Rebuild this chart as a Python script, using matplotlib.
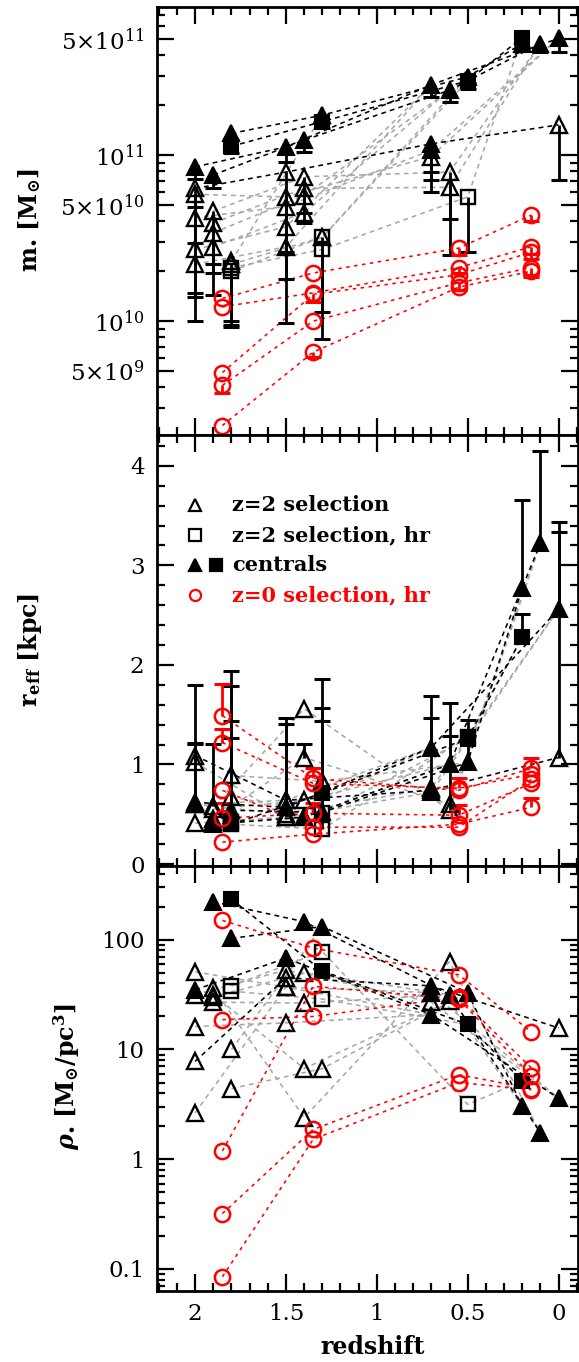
import numpy as np
import matplotlib
matplotlib.use('Agg')
import matplotlib.pyplot as plt
from matplotlib.ticker import FixedLocator, FixedFormatter, MultipleLocator, LogLocator, NullFormatter

nan = np.nan

# redshift columns used by each sample (offset so the symbols don't overlap)
x_a = [2.0, 1.5, 0.7, 0.0]
x_b = [1.9, 1.4, 0.6, 0.1]
x_c = [1.8, 1.3, 0.5, 0.2]
x_r = [1.85, 1.35, 0.55, 0.15]

# one entry per galaxy track
group = ['a', 'a', 'a', 'a', 'a', 'a',
         'b', 'b', 'b', 'b', 'b',
         'c', 'c', 'c', 'c', 'c', 'c',
         'r', 'r', 'r', 'r', 'r']
# F filled tri, S filled square, o open tri, s open square, r red circle, - merged (no symbol)
marks = ['FFFF', 'ooFo', 'ooo-', 'ooF-', 'oo- ', 'oo- ',
         'FFFF', 'ooo-', 'ooo-', 'oo- ', 'oo- ',
         'FFFF', 'SSSS', 'sss-', 'ss- ', 'oo- ', 'o-  ',
         'rrrr', 'rrrr', 'rrrr', 'rrrr', 'rrrr']
line_col = ['k', 'k', 'g', 'g', 'g', 'g',
            'k', 'g', 'g', 'g', 'g',
            'k', 'k', 'g', 'g', 'g', 'g',
            'r', 'r', 'r', 'r', 'r']

# stellar mass [1e10 Msun]
mass = [[8.5, 11.2, 26.5, 50.5], [6.3, 7.9, 11.7, 15.2], [5.8, 5.6, 9.8, 50.5],
        [4.2, 4.9, 10.7, 50.5], [2.7, 3.7, 26.5, nan], [2.2, 2.8, 26.5, nan],
        [7.6, 12.3, 24.6, 47], [4.6, 7.4, 7.9, 47], [3.9, 6.3, 6.4, 47],
        [3.4, 5.7, 24.6, nan], [2.8, 4.5, 24.6, nan],
        [13.5, 17.4, 29.6, 47], [11.3, 15.9, 28, 51], [2.1, 2.7, 5.6, 51],
        [2.0, 3.2, 28, nan], [2.2, 3.2, 29.6, nan], [2.3, 17.4, nan, nan],
        [1.37, 1.95, 2.75, 4.35], [1.22, 1.48, 2.1, 2.8], [0.49, 1.45, 1.9, 2.6],
        [0.41, 1.0, 1.7, 2.1], [0.235, 0.65, 1.6, 2.0]]
mass_lo = [[7.2, 9.1, 22.5, 41.5], [4.9, 0.97, 7.9, 7.1], [1.0, 1.8, 6.0, nan],
           [2.95, 2.6, 7.1, nan], [1.48, nan, nan, nan], [1.4, nan, nan, nan],
           [6.3, 10.5, 21, 42], [2.2, 4.5, 4.1, nan], [1.95, 3.9, 2.5, nan],
           [1.44, nan, nan, nan], [nan, nan, nan, nan],
           [12.3, 15.5, 27, 43], [10.3, 14.5, 25, 45], [1.0, 1.13, 2.6, nan],
           [0.95, 0.78, nan, nan], [0.92, nan, nan, nan], [nan, nan, nan, nan],
           [nan, nan, 2.5, 4.0], [nan, nan, 1.95, 2.55], [nan, 1.3, nan, 2.35],
           [0.37, nan, 1.55, 1.9], [nan, 0.61, nan, 1.85]]

# effective radius [kpc]
reff = [[0.62, 0.57, 1.17, 2.56], [1.09, 0.64, 0.74, 1.07], [0.60, 0.50, 0.76, 2.56],
        [0.41, 0.47, 0.72, 2.56], [0.60, 0.64, 1.17, nan], [1.02, 0.47, 1.17, nan],
        [0.40, 0.47, 1.00, 3.22], [0.58, 1.56, 0.54, 3.22], [0.45, 1.07, 0.60, 3.22],
        [0.55, 0.64, 1.00, nan], [0.42, 0.47, 1.00, nan],
        [0.54, 0.52, 1.02, 2.77], [0.40, 0.71, 1.26, 2.28], [0.40, 0.35, 1.28, 2.28],
        [0.42, 0.51, 1.26, nan], [0.89, 0.83, 1.02, nan], [0.67, 0.52, nan, nan],
        [0.22, 0.30, 0.40, 0.57], [0.46, 0.51, 0.49, 0.81], [0.74, 0.37, 0.37, 0.85],
        [1.22, 0.81, 0.76, 0.90], [1.49, 0.86, 0.74, 0.96]]
reff_hi = [[nan, nan, 1.69, 3.44], [1.80, 1.47, 1.47, 3.34], [1.22, 1.41, nan, nan],
           [nan, 1.21, nan, nan], [1.21, nan, nan, nan], [nan, nan, nan, nan],
           [nan, nan, 1.29, 4.15], [1.21, nan, 1.62, nan], [nan, 1.21, nan, nan],
           [nan, nan, nan, nan], [nan, nan, nan, nan],
           [1.94, 1.86, 1.45, 3.66], [1.79, 1.57, nan, 2.51], [1.44, 1.44, nan, nan],
           [1.27, nan, nan, nan], [nan, nan, nan, nan], [nan, nan, nan, nan],
           [nan, nan, nan, 0.66], [0.61, 0.61, 0.59, nan], [nan, nan, nan, nan],
           [1.36, nan, 0.86, nan], [1.81, 0.96, nan, 1.06]]

# stellar density [Msun/pc^3]
rho = [[35, 68, 20.8, 3.6], [7.8, 45, 38, 15.7], [31.6, 53, 27, 3.6],
       [51, 37, 33, 3.6], [16.2, 17.5, 20.8, nan], [2.65, 37, 20.8, nan],
       [222, 146, 31.6, 1.75], [36, 2.4, 63, 1.75], [31.6, 6.7, 27.5, 1.75],
       [27, 26.5, 31.6, nan], [30, 50, 31.6, nan],
       [103, 132, 33, 3.05], [234, 52, 16.9, 5.15], [38, 78, 3.16, 5.15],
       [34, 28.8, 16.9, nan], [4.4, 6.7, 33, nan], [10, 132, nan, nan],
       [150, 84, 48, 14.5], [18.7, 20, 30, 6.8], [1.19, 37.6, 29, 5.75],
       [0.32, 1.87, 5.9, 4.4], [0.085, 1.52, 5.0, 4.3]]

legend_labels = ['z=2 selection', 'z=2 selection, hr', 'centrals', 'z=0 selection, hr']

# ---------------------------------------------------------------
plt.rcParams['font.family'] = 'DejaVu Serif'
plt.rcParams['mathtext.fontset'] = 'dejavuserif'

COLS = {'a': x_a, 'b': x_b, 'c': x_c, 'r': x_r}
LINE = {'g': '#a8a8a8', 'k': 'black', 'r': '#ff0000'}
MK = {
    'F': dict(marker='^', ms=12, mfc='black', mec='black', mew=1.5),
    'S': dict(marker='s', ms=10.5, mfc='black', mec='black', mew=1.5),
    'o': dict(marker='^', ms=12, mfc='none', mec='black', mew=1.7),
    's': dict(marker='s', ms=10.5, mfc='none', mec='black', mew=1.7),
    'r': dict(marker='o', ms=11, mfc='none', mec='#ff0000', mew=1.8),
}

W, H = 579, 1362
fig = plt.figure(figsize=(W / 100, H / 100), dpi=100)
def fy(y): return 1 - y / H
L, R = 157 / W, 578.5 / W
ax1 = fig.add_axes([L, fy(435), R - L, fy(7) - fy(435)])
ax2 = fig.add_axes([L, fy(866), R - L, fy(435) - fy(866)], sharex=ax1)
ax3 = fig.add_axes([L, fy(1291), R - L, fy(866) - fy(1291)], sharex=ax1)


def draw(ax, vals, err=None, scale=1.0):
    n = len(group)
    for c in ['g', 'k', 'r']:
        for i in range(n):
            if line_col[i] != c:
                continue
            xs = np.array(COLS[group[i]])
            ys = np.array(vals[i], float) * scale
            ok = ~np.isnan(ys)
            ls = (0, (2.2, 2.8)) if c == 'r' else (0, (3, 2.6))
            ax.plot(xs[ok], ys[ok], ls=ls, lw=1.15, color=LINE[c], zorder=2)
    if err is not None:
        for i in range(n):
            ec = '#ff0000' if group[i] == 'r' else 'black'
            for j in range(4):
                v, e = vals[i][j], err[i][j]
                if np.isnan(v) or np.isnan(e):
                    continue
                x = COLS[group[i]][j]
                ax.plot([x, x], [v * scale, e * scale], color=ec, lw=2, zorder=3,
                        solid_capstyle='butt')
                ax.plot([x], [e * scale], marker='_', ms=12, mew=2.2, color=ec, zorder=3)
    for i in range(n):
        for j, code in enumerate(marks[i]):
            if code not in MK or np.isnan(vals[i][j]):
                continue
            ax.plot([COLS[group[i]][j]], [vals[i][j] * scale], ls='none', zorder=4, **MK[code])


draw(ax1, mass, mass_lo, scale=1e10)
draw(ax2, reff, reff_hi)
draw(ax3, rho)

# axes / ticks
ax1.set_xlim(2.21, -0.11)
ax1.set_yscale('log')
ax1.set_ylim(2.06e9, 7.8e11)
ax1.yaxis.set_major_locator(FixedLocator([5e9, 1e10, 5e10, 1e11, 5e11]))
ax1.yaxis.set_major_formatter(FixedFormatter([r'$5{\times}10^{9}$', r'$10^{10}$', r'$5{\times}10^{10}$',
                                              r'$10^{11}$', r'$5{\times}10^{11}$']))
ax1.yaxis.set_minor_locator(LogLocator(base=10, subs=(2, 3, 4, 6, 7, 8, 9), numticks=20))
ax1.yaxis.set_minor_formatter(NullFormatter())

ax2.set_ylim(-0.02, 4.31)
ax2.yaxis.set_major_locator(MultipleLocator(1))
ax2.yaxis.set_minor_locator(MultipleLocator(0.2))

ax3.set_yscale('log')
ax3.set_ylim(0.063, 470)
ax3.yaxis.set_major_locator(FixedLocator([0.1, 1, 10, 100]))
ax3.yaxis.set_major_formatter(FixedFormatter(['0.1', '1', '10', '100']))
ax3.yaxis.set_minor_locator(LogLocator(base=10, subs=(2, 3, 4, 5, 6, 7, 8, 9), numticks=20))
ax3.yaxis.set_minor_formatter(NullFormatter())

ax1.xaxis.set_major_locator(MultipleLocator(0.5))
ax1.xaxis.set_minor_locator(MultipleLocator(0.1))
ax3.set_xticks([2, 1.5, 1, 0.5, 0])
ax3.set_xticklabels(['2', '1.5', '1', '0.5', '0'])

for ax in (ax1, ax2, ax3):
    ax.tick_params(which='both', direction='in', top=True, right=True, width=1.6, labelsize=16.5)
    ax.tick_params(which='major', length=12, pad=9)
    ax.tick_params(which='minor', length=6)
    for s in ax.spines.values():
        s.set_linewidth(2)
for ax in (ax1, ax2):
    plt.setp(ax.get_xticklabels(), visible=False)
ax3.tick_params(axis='x', pad=9)

# legend in the middle panel
lx, lx2, tx = 0.090, 0.140, 0.178
rows = [0.838, 0.768, 0.698, 0.629]
leg_ms = dict(ms=8, mew=1.6, ls='none', transform=ax2.transAxes, clip_on=False, zorder=6)
ax2.plot([lx], [rows[0]], marker='^', mfc='none', mec='black', **leg_ms)
ax2.plot([lx], [rows[1]], marker='s', mfc='none', mec='black', **leg_ms)
ax2.plot([lx], [rows[2]], marker='^', mfc='black', mec='black', **leg_ms)
ax2.plot([lx2], [rows[2]], marker='s', mfc='black', mec='black', **leg_ms)
ax2.plot([lx], [rows[3]], marker='o', mfc='none', mec='#ff0000', **leg_ms)
for k, lab in enumerate(legend_labels):
    ax2.text(tx, rows[k], lab, transform=ax2.transAxes, fontsize=15, fontweight='bold',
             va='center', ha='left', color='#ff0000' if k == 3 else 'black')

# axis labels
lab_kw = dict(fontsize=17, rotation=90, ha='center', va='center')
fig.text(30 / W, fy(220), r'$\mathbf{m}_{\bullet}\ \mathbf{[M_{\odot}]}$', **lab_kw)
fig.text(30 / W, fy(650), r'$\mathbf{r_{eff}\ [kpc]}$', **lab_kw)
fig.text(67 / W, fy(1077), r'$\boldsymbol{\rho}_{\bullet}\ \mathbf{[M_{\odot}/pc^{3}]}$', **lab_kw)
fig.text(373 / W, fy(1347), 'redshift', fontsize=17, fontweight='bold', ha='center', va='center')

fig.savefig('out.png', dpi=100, facecolor='white')
